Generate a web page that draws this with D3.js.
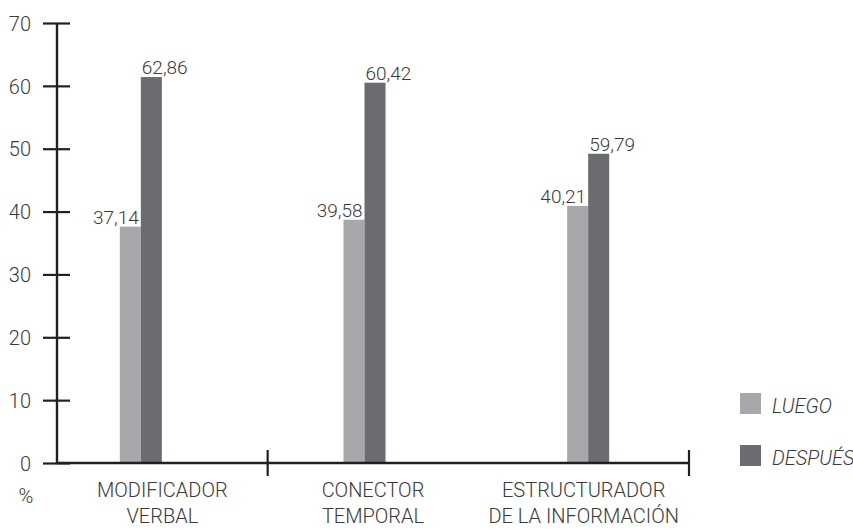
<!DOCTYPE html>
<html lang="es">
<head>
<meta charset="utf-8">
<title>Luego / Después</title>
<script src="https://d3js.org/d3.v7.min.js"></script>
<style>
  body { margin: 0; background: #fff; }
  text { font-family: Roboto, "Open Sans", sans-serif; font-weight: 300; fill: #3a3a3a; }
</style>
</head>
<body>
<div id="chart"></div>
<script>
// categories (two text lines each) and series
const categories = ["MODIFICADOR VERBAL", "CONECTOR TEMPORAL", "ESTRUCTURADOR DE LA INFORMACIÓN"];
const categoryLines = [["MODIFICADOR", "VERBAL"], ["CONECTOR", "TEMPORAL"], ["ESTRUCTURADOR", "DE LA INFORMACIÓN"]];
const series = ["LUEGO", "DESPUÉS"];
// bar heights as drawn in the picture
const luego = [37.6, 38.7, 40.9];
const despues = [61.4, 60.5, 49.2];
// printed value labels
const luegoLabels = ["37,14", "39,58", "40,21"];
const despuesLabels = ["62,86", "60,42", "59,79"];
const yTicks = [0, 10, 20, 30, 40, 50, 60, 70];

const colors = { "LUEGO": "#a7a8ab", "DESPUÉS": "#6b6c70" };

const width = 853, height = 529;
const svg = d3.select("#chart").append("svg")
    .attr("width", width)
    .attr("height", height);

// scales
const y = d3.scaleLinear().domain([0, 70]).range([463, 23]);
const x = d3.scaleBand().domain(categories).range([57, 689]);
const xGroup = d3.scaleBand().domain(categories).range([29, 700]).paddingInner(0.812).paddingOuter(0.406);
const xSub = d3.scaleBand().domain(series).range([0, xGroup.bandwidth()]);

const rows = categories.map((c, i) => ({
    cat: c,
    values: [
        { s: "LUEGO", v: luego[i], label: luegoLabels[i] },
        { s: "DESPUÉS", v: despues[i], label: despuesLabels[i] }
    ]
}));

// bars
const groups = svg.selectAll(".grp")
    .data(rows)
    .join("g")
    .attr("class", "grp")
    .attr("transform", d => `translate(${xGroup(d.cat)},0)`);

groups.selectAll("rect")
    .data(d => d.values)
    .join("rect")
    .attr("x", d => xSub(d.s))
    .attr("y", d => y(d.v))
    .attr("width", xSub.bandwidth())
    .attr("height", d => y(0) - y(d.v))
    .attr("fill", d => colors[d.s]);

// value labels
groups.selectAll(".val")
    .data(d => d.values)
    .join("text")
    .attr("class", "val")
    .attr("x", d => d.s === "LUEGO" ? xSub(d.s) + xSub.bandwidth() - 2 : xSub(d.s) + 1)
    .attr("y", d => y(d.v) - 3)
    .attr("text-anchor", d => d.s === "LUEGO" ? "end" : "start")
    .style("font-size", "19px")
    .text(d => d.label);

// y axis
const yAxis = d3.axisLeft(y).tickValues(yTicks).tickSize(14);
const yg = svg.append("g")
    .attr("transform", "translate(57,0)")
    .call(yAxis);
yg.select(".domain").remove();
yg.selectAll(".tick line")
    .attr("x1", 13)
    .attr("stroke", "#231f20")
    .attr("stroke-width", 2.2);
yg.selectAll(".tick text")
    .attr("x", -26)
    .attr("dy", "0.36em")
    .style("font-size", "20px")
    .style("font-family", "Roboto, 'Open Sans', sans-serif")
    .style("font-weight", 300)
    .attr("fill", "#3a3a3a");

svg.append("line")
    .attr("x1", 57).attr("x2", 57)
    .attr("y1", y(70)).attr("y2", y(0))
    .attr("stroke", "#231f20").attr("stroke-width", 2.4);

// x axis
svg.append("line")
    .attr("x1", x.range()[0]).attr("x2", x.range()[1])
    .attr("y1", y(0)).attr("y2", y(0))
    .attr("stroke", "#231f20").attr("stroke-width", 2.4);

svg.selectAll(".xtick")
    .data([categories[0], categories[2]])
    .join("line")
    .attr("class", "xtick")
    .attr("x1", d => x(d) + x.bandwidth())
    .attr("x2", d => x(d) + x.bandwidth())
    .attr("y1", y(0) - 13)
    .attr("y2", y(0) + 13)
    .attr("stroke", "#231f20").attr("stroke-width", 2.2);

// category labels
const catText = svg.selectAll(".cat")
    .data(categories)
    .join("text")
    .attr("class", "cat")
    .attr("text-anchor", "middle")
    .style("font-size", "20px");
catText.selectAll("tspan")
    .data((d, i) => categoryLines[i].map(t => ({ t, c: d })))
    .join("tspan")
    .attr("x", d => x(d.c) + x.bandwidth() / 2)
    .attr("y", (d, j) => 497 + j * 26)
    .text(d => d.t);

// unit label
svg.append("text")
    .attr("x", 26)
    .attr("y", 503)
    .attr("text-anchor", "middle")
    .style("font-size", "20px")
    .text("%");

// legend
const legend = svg.selectAll(".leg")
    .data(series)
    .join("g")
    .attr("class", "leg")
    .attr("transform", (d, i) => `translate(740,${393 + i * 52})`);
legend.append("rect")
    .attr("width", 21).attr("height", 21)
    .attr("fill", d => colors[d]);
legend.append("text")
    .attr("x", 32).attr("y", 20)
    .style("font-size", "20px")
    .style("font-style", "italic")
    .text(d => d);
</script>
</body>
</html>
